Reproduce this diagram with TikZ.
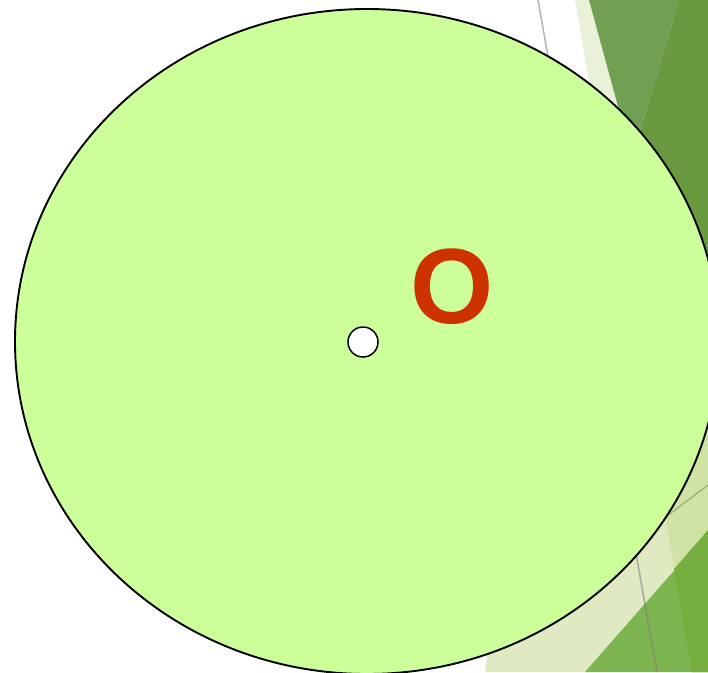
\documentclass[tikz,border=0pt]{standalone}
\usepackage{fontspec}
\setmainfont{Liberation Sans}
\definecolor{discfill}{HTML}{CCFF99}
\definecolor{ored}{HTML}{CC3300}
\definecolor{lightstrip}{HTML}{E9F1D8}
\definecolor{midgreen}{HTML}{72A052}
\definecolor{darkgreen}{HTML}{6A9A40}
\definecolor{botlight}{HTML}{DFE9C2}
\definecolor{botlight2}{HTML}{D1E2A5}
\definecolor{botgreen}{HTML}{7CB450}
\definecolor{botgreen2}{HTML}{76AE3F}
\begin{document}
\begin{tikzpicture}[x=1pt,y=-1pt,
  disc/.style={draw=black, line width=1.9pt, fill=discfill},
  hole/.style={circle, draw=black, line width=1.5pt, fill=white, minimum size=30pt, inner sep=0pt},
  letter/.style={font=\fontsize{107}{107}\selectfont\bfseries, text=ored, inner sep=0pt}]
\useasboundingbox (0,0) rectangle (708,672);
\begin{scope}
\clip (0,0) rectangle (708,672);
% top right decoration
\fill[lightstrip] (575,0) -- (589,0) -- (670,300) -- (626,300) -- cycle;
\fill[midgreen] (589,0) -- (679,0) -- (632,158) -- cycle;
\fill[darkgreen] (679,0) -- (708,0) -- (708,410) -- (600,410) -- (632,158) -- cycle;
% bottom right decoration
\fill[botlight] (485,672) -- (500,560) -- (600,400) -- (708,400) -- (708,672) -- cycle;
\fill[botlight2] (645,400) -- (708,400) -- (708,672) -- (692,672) -- cycle;
\fill[botgreen] (585,672) -- (708,532) -- (708,672) -- cycle;
\fill[botgreen2] (674,569) -- (708,530) -- (708,672) -- (692,672) -- cycle;
\draw[gray, opacity=0.6, line width=1.5pt] (538,0) -- (657,672);
\draw[color=black!25!botlight2, line width=1.2pt] (630,544) -- (708,485);
% disc
\draw[disc] (367,341.5) ellipse [x radius=352pt, y radius=332.5pt];
\end{scope}
\node[hole] (c) at (363,342) {};
\node[letter] (o) at (452,287) {O};
\end{tikzpicture}
\end{document}
